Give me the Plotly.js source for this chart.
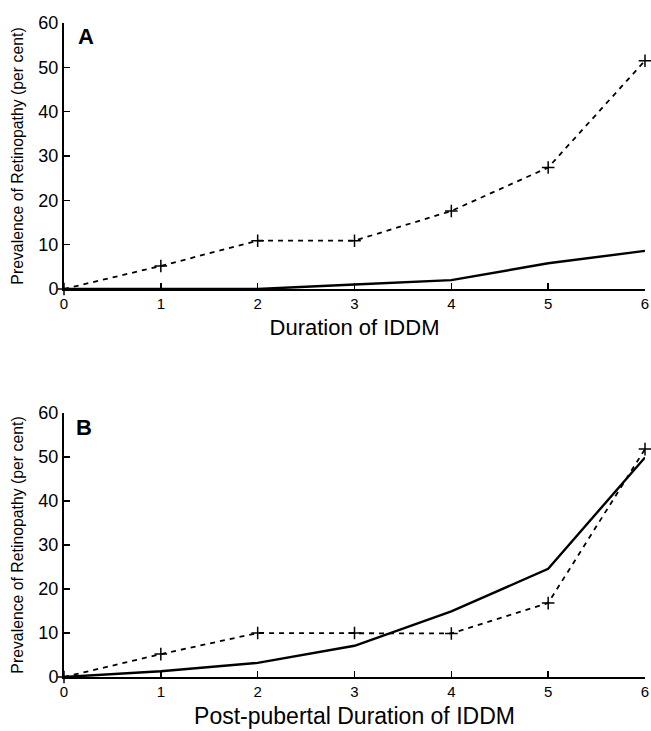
<!DOCTYPE html>
<html>
<head>
<meta charset="utf-8">
<script src="https://cdn.plot.ly/plotly-3.0.1.min.js"></script>
<style>html,body{margin:0;padding:0;background:#fff;}#chart{width:651px;height:731px;}</style>
</head>
<body>
<div id="chart"></div>
<script>
// Data
const years = [0, 1, 2, 3, 4, 5, 6];
const xTickLabels = ['0', '1', '2', '3', '4', '5', '6'];
const yTicks = [0, 10, 20, 30, 40, 50, 60];
// Panel A: Duration of IDDM
const aDashed = [0, 5.2, 10.9, 10.9, 17.6, 27.4, 51.5];
const aSolid  = [0, 0, 0, 1.0, 2.0, 5.8, 8.6];
// Panel B: Post-pubertal duration of IDDM
const bDashed = [0, 5.2, 10.0, 10.0, 9.9, 16.8, 51.8];
const bSolid  = [0, 1.3, 3.2, 7.1, 14.9, 24.6, 49.9];

const FONT = 'Liberation Sans, Arial, Helvetica, sans-serif';
const dashedStyle = {color: '#000', width: 1.8, dash: '5px,5px'};
const solidStyle = {color: '#000', width: 2.4};
const plusMarker = {symbol: 'cross-thin', size: 9, line: {color: '#000', width: 1.5}, color: '#000'};

const traces = [
  {x: years, y: aDashed, xaxis: 'x', yaxis: 'y', mode: 'lines+markers', line: dashedStyle, marker: plusMarker, cliponaxis: false},
  {x: years, y: aSolid, xaxis: 'x', yaxis: 'y', mode: 'lines', line: solidStyle, cliponaxis: false},
  {x: years, y: bDashed, xaxis: 'x2', yaxis: 'y2', mode: 'lines+markers', line: dashedStyle, marker: plusMarker, cliponaxis: false},
  {x: years, y: bSolid, xaxis: 'x2', yaxis: 'y2', mode: 'lines', line: solidStyle, cliponaxis: false}
];

function xAxis(title, anchor, tsize) {
  return {
    domain: [64/651, 645/651], anchor: anchor, range: [0, 6],
    tickvals: years, ticktext: xTickLabels,
    ticks: 'inside', ticklen: 6, tickwidth: 1.4, tickcolor: '#000',
    showline: true, linecolor: '#000', linewidth: 2,
    showgrid: false, zeroline: false, automargin: false,
    tickfont: {family: FONT, size: 15, color: '#000'},
    title: {text: title, font: {family: FONT, size: tsize, color: '#000'}, standoff: 9}
  };
}
function yAxis(domain, anchor) {
  return {
    domain: domain, anchor: anchor, range: [0, 60],
    tickvals: yTicks, ticks: 'inside', ticklen: 6, tickwidth: 1.4, tickcolor: '#000',
    showline: true, linecolor: '#000', linewidth: 2,
    showgrid: false, zeroline: false, automargin: false,
    tickfont: {family: FONT, size: 18, color: '#000'},
    title: {text: 'Prevalence of Retinopathy (per cent)', font: {family: FONT, size: 15.8, color: '#000'}, standoff: 11}
  };
}

const layout = {
  width: 651, height: 731,
  margin: {l: 0, r: 0, t: 0, b: 0},
  paper_bgcolor: '#fff', plot_bgcolor: '#fff',
  showlegend: false,
  xaxis: xAxis('Duration of IDDM', 'y', 22),
  yaxis: yAxis([1 - 289/731, 1 - 23/731], 'x'),
  xaxis2: xAxis('Post-pubertal Duration of IDDM', 'y2', 23),
  yaxis2: yAxis([1 - 677/731, 1 - 413/731], 'x2'),
  annotations: [
    {text: '<b>A</b>', xref: 'x domain', yref: 'y domain', x: 0.02, y: 1.005, xanchor: 'left', yanchor: 'top', showarrow: false, font: {family: FONT, size: 22, color: '#000'}},
    {text: '<b>B</b>', xref: 'x2 domain', yref: 'y2 domain', x: 0.018, y: 1.0, xanchor: 'left', yanchor: 'top', showarrow: false, font: {family: FONT, size: 22, color: '#000'}}
  ]
};

Plotly.newPlot('chart', traces, layout, {staticPlot: true, displayModeBar: false});
</script>
</body>
</html>
